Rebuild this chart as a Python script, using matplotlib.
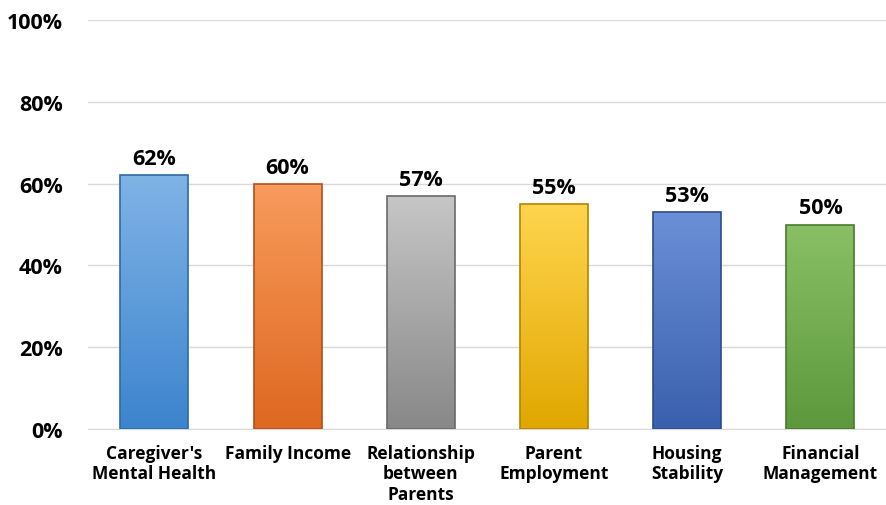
import matplotlib
matplotlib.use('Agg')
import matplotlib.pyplot as plt
import numpy as np
from matplotlib.colors import LinearSegmentedColormap

categories = ["Caregiver's\nMental Health", 'Family Income', 'Relationship\nbetween\nParents',
              'Parent\nEmployment', 'Housing\nStability', 'Financial\nManagement']
values = [62, 60, 57, 55, 53, 50]
top_colors = ['#80B3E6', '#F89B5C', '#C6C6C6', '#FFD54F', '#6B90D8', '#89C066']
bottom_colors = ['#3C84CE', '#DE6820', '#888888', '#E1A700', '#3960AC', '#5D983C']
edge_colors = ['#2F6AA6', '#B0521A', '#6A6A6A', '#B38500', '#2D4C8A', '#4A7A30']

plt.rcParams['font.family'] = ['Open Sans', 'DejaVu Sans']
plt.rcParams['font.weight'] = 'bold'

fig = plt.figure(figsize=(8.87, 5.06), dpi=100)
ax = fig.add_axes([0.099, 0.150, 0.901, 0.8085])

x = np.arange(len(values))
bars = ax.bar(x, values, width=0.51, zorder=3)

# vertical gradient fill, clipped to each bar
grad = np.linspace(1, 0, 256).reshape(-1, 1)
for i, b in enumerate(bars):
    cmap = LinearSegmentedColormap.from_list('g%d' % i, [bottom_colors[i], top_colors[i]])
    b.set_facecolor('none')
    b.set_edgecolor(edge_colors[i])
    b.set_linewidth(1.2)
    bx, by = b.get_x(), b.get_y()
    bw, bh = b.get_width(), b.get_height()
    im = ax.imshow(grad, cmap=cmap, aspect='auto', extent=[bx, bx + bw, by, by + bh],
                   zorder=2.5, vmin=0, vmax=1)
    im.set_clip_path(b)
    ax.text(x[i], values[i] + 1.5, '%d%%' % values[i], ha='center', va='bottom',
            fontsize=15.5, fontweight='bold', color='black')

ax.set_xlim(-0.5, len(values) - 0.5)
ax.set_ylim(0, 100)
ax.set_yticks(range(0, 101, 20))
ax.set_yticklabels(['%d%%' % v for v in range(0, 101, 20)], fontsize=15.5, fontweight='bold')
ax.set_xticks(x)
ax.set_xticklabels(categories, fontsize=12.5, fontweight='bold', linespacing=1.15)
ax.tick_params(axis='both', length=0)
ax.tick_params(axis='x', pad=11)
ax.tick_params(axis='y', pad=18)

ax.grid(axis='y', color='#D9D9D9', linewidth=1, zorder=0)
for s in ['top', 'right', 'left']:
    ax.spines[s].set_visible(False)
ax.spines['bottom'].set_color('#D9D9D9')
ax.set_axisbelow(True)

fig.savefig('out.png', dpi=100)
